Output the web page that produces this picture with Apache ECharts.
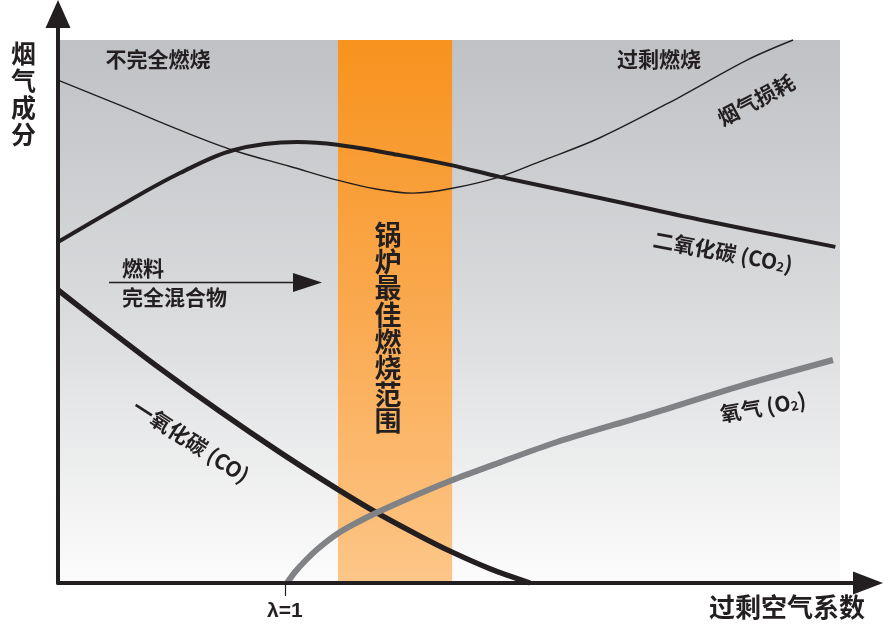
<!DOCTYPE html>
<html><head><meta charset="utf-8">
<script src="https://cdn.jsdelivr.net/npm/echarts@6/dist/echarts.min.js"></script>
<style>html,body{margin:0;padding:0;background:#fff}#c{width:888px;height:627px}</style>
</head><body><div id="c"></div>
<script>
// ---- data (x: relative excess-air scale 0..100, y: relative flue-gas share 0..100) ----
const flueLoss = [[0,92.6],[7.9,88.0],[15.6,83.4],[22.4,79.7],[29.7,76.7],[35.7,74.2],[40.5,72.6],[45.4,71.8],[50.1,72.6],[56.5,74.8],[61.6,77.6],[69.3,82.0],[79.5,89.5],[88.1,96.3],[94.0,100]];
const carbonDioxide = [[0,62.8],[9.2,70.5],[15.6,75.5],[22.4,79.7],[30.6,81.2],[35.7,80.7],[43.7,78.8],[50.1,77.0],[56.5,74.8],[69.3,70.9],[82.1,66.9],[99.4,61.9]];
const carbonMonoxide = [[0,53.96],[5.37,47.92],[13.04,39.52],[20.72,31.57],[28.39,24.05],[35.68,17.33],[40.79,12.91],[46.29,8.64],[50.13,5.87],[55.24,2.63],[60.36,0]];
const oxygen = [[29.28,0],[30.31,2.03],[31.59,4.05],[33.12,6.17],[35.68,9.02],[38.24,11.14],[40.79,12.98],[44.63,15.47],[50.13,18.78],[56.14,22.01],[63.81,25.97],[75.7,31.12],[87.21,36.28],[99.1,41.07]];
const tickValues = [29.0];
const tickLabels = ['λ=1'];
const shadedX = [0, 100];
const shadedY = [0, 100];
const bestRange = [35.8, 50.4];

const ink = '#231f20';
const grayGrad = {type:'linear',x:0,y:0,x2:0,y2:1,colorStops:[{offset:0,color:'#c0c1c4'},{offset:0.5,color:'#dadbdd'},{offset:1,color:'#fcfcfc'}]};
const orangeGrad = {type:'linear',x:0,y:0,x2:0,y2:1,colorStops:[{offset:0,color:'#f7931e'},{offset:0.5,color:'#faa94f'},{offset:1,color:'#fdc688'}]};
const cjk = '"Noto Sans CJK SC", "Noto Sans", sans-serif';

const chart = echarts.init(document.getElementById('c'), null, {renderer:'canvas'});
function lbl(text, x, y, size, rotDeg, extra) {
  return Object.assign({
    type:'text', x:x, y:y, rotation: (rotDeg||0)*Math.PI/180, z:50,
    style:{text:text, fill:ink, font:'bold '+size+'px '+cjk, align:'center', verticalAlign:'middle'}
  }, extra||{});
}
const subRich = {sub:{fontSize:13, fontWeight:'bold', fontFamily:cjk, fill:ink, verticalAlign:'bottom', lineHeight:14, padding:[9,0,0,0]}};

chart.setOption({
  animation:false,
  backgroundColor:'#ffffff',
  grid:{left:58, top:14, width:810, height:569, containLabel:false},
  xAxis:{
    type:'value', min:0, max:103.58, z:10,
    name:'过剩空气系数', nameLocation:'end', nameGap:-3,
    nameTextStyle:{align:'right', verticalAlign:'top', padding:[11,0,0,0], fontSize:26, fontWeight:'bold', color:ink, fontFamily:cjk},
    axisLine:{show:true, onZero:false, symbol:['none','triangle'], symbolSize:[23,30], lineStyle:{color:ink, width:4}},
    axisTick:{show:true, customValues:tickValues, length:13, lineStyle:{color:ink, width:1.2}},
    axisLabel:{show:true, customValues:tickValues, margin:18, formatter:function(v){return tickLabels[tickValues.indexOf(v)]||'';}, fontSize:21, fontWeight:'bold', color:ink, fontFamily:'"Liberation Sans", Arial, sans-serif'},
    splitLine:{show:false}
  },
  yAxis:{
    type:'value', min:0, max:104.79, z:10,
    name:'烟\n气\n成\n分', nameLocation:'end', nameGap:-26,
    nameTextStyle:{align:'right', verticalAlign:'top', padding:[0,22,0,0], fontSize:25, lineHeight:27, fontWeight:'bold', color:ink, fontFamily:cjk},
    axisLine:{show:true, onZero:false, symbol:['none','triangle'], symbolSize:[25,28], lineStyle:{color:ink, width:4}},
    axisTick:{show:false}, axisLabel:{show:false}, splitLine:{show:false}
  },
  series:[
    {name:'烟气损耗', type:'line', data:flueLoss, smooth:0.35, symbol:'none', z:3,
     lineStyle:{color:ink, width:1.4},
     markArea:{silent:true, data:[
       [{xAxis:shadedX[0], yAxis:shadedY[0], itemStyle:{color:grayGrad}}, {xAxis:shadedX[1], yAxis:shadedY[1]}],
       [{xAxis:bestRange[0], yAxis:shadedY[0], itemStyle:{color:orangeGrad}}, {xAxis:bestRange[1], yAxis:shadedY[1]}]
     ]}},
    {name:'二氧化碳 (CO2)', type:'line', data:carbonDioxide, smooth:0.35, symbol:'none', z:4, lineStyle:{color:ink, width:4}},
    {name:'一氧化碳 (CO)', type:'line', data:carbonMonoxide, smooth:0.3, symbol:'none', z:4, lineStyle:{color:ink, width:5.5}},
    {name:'氧气 (O2)', type:'line', data:oxygen, smooth:0.3, symbol:'none', z:4, lineStyle:{color:'#808285', width:6}}
  ],
  graphic:[
    lbl('不完全燃烧', 158, 59, 21, 0),
    lbl('过剩燃烧', 659, 59, 21, 0),
    lbl('烟气损耗', 756, 100, 21, 28),
    {type:'text', x:723, y:252, rotation:-10.5*Math.PI/180, z:50, style:{text:'二氧化碳 (CO{sub|2})', rich:subRich, fill:ink, font:'bold 21px '+cjk, align:'center', verticalAlign:'middle'}},
    {type:'text', x:763, y:407, rotation:10*Math.PI/180, z:50, style:{text:'氧气 (O{sub|2})', rich:subRich, fill:ink, font:'bold 21px '+cjk, align:'center', verticalAlign:'middle'}},
    lbl('一氧化碳 (CO)', 191, 441, 21, -33),
    {type:'text', x:122, y:268, z:50, style:{text:'燃料', fill:ink, font:'bold 21px '+cjk, align:'left', verticalAlign:'middle'}},
    {type:'text', x:122, y:297, z:50, style:{text:'完全混合物', fill:ink, font:'bold 21px '+cjk, align:'left', verticalAlign:'middle'}},
    {type:'line', z:50, shape:{x1:109, y1:282.5, x2:296, y2:282.5}, style:{stroke:ink, lineWidth:1.5}},
    {type:'polygon', z:50, shape:{points:[[293,273],[322,282.5],[293,292]]}, style:{fill:ink}},
    {type:'text', x:388, y:328, z:50, style:{text:'锅\n炉\n最\n佳\n燃\n烧\n范\n围', fill:ink, font:'bold 27px '+cjk, lineHeight:26.6, align:'center', verticalAlign:'middle'}}
  ]
});
</script></body></html>
